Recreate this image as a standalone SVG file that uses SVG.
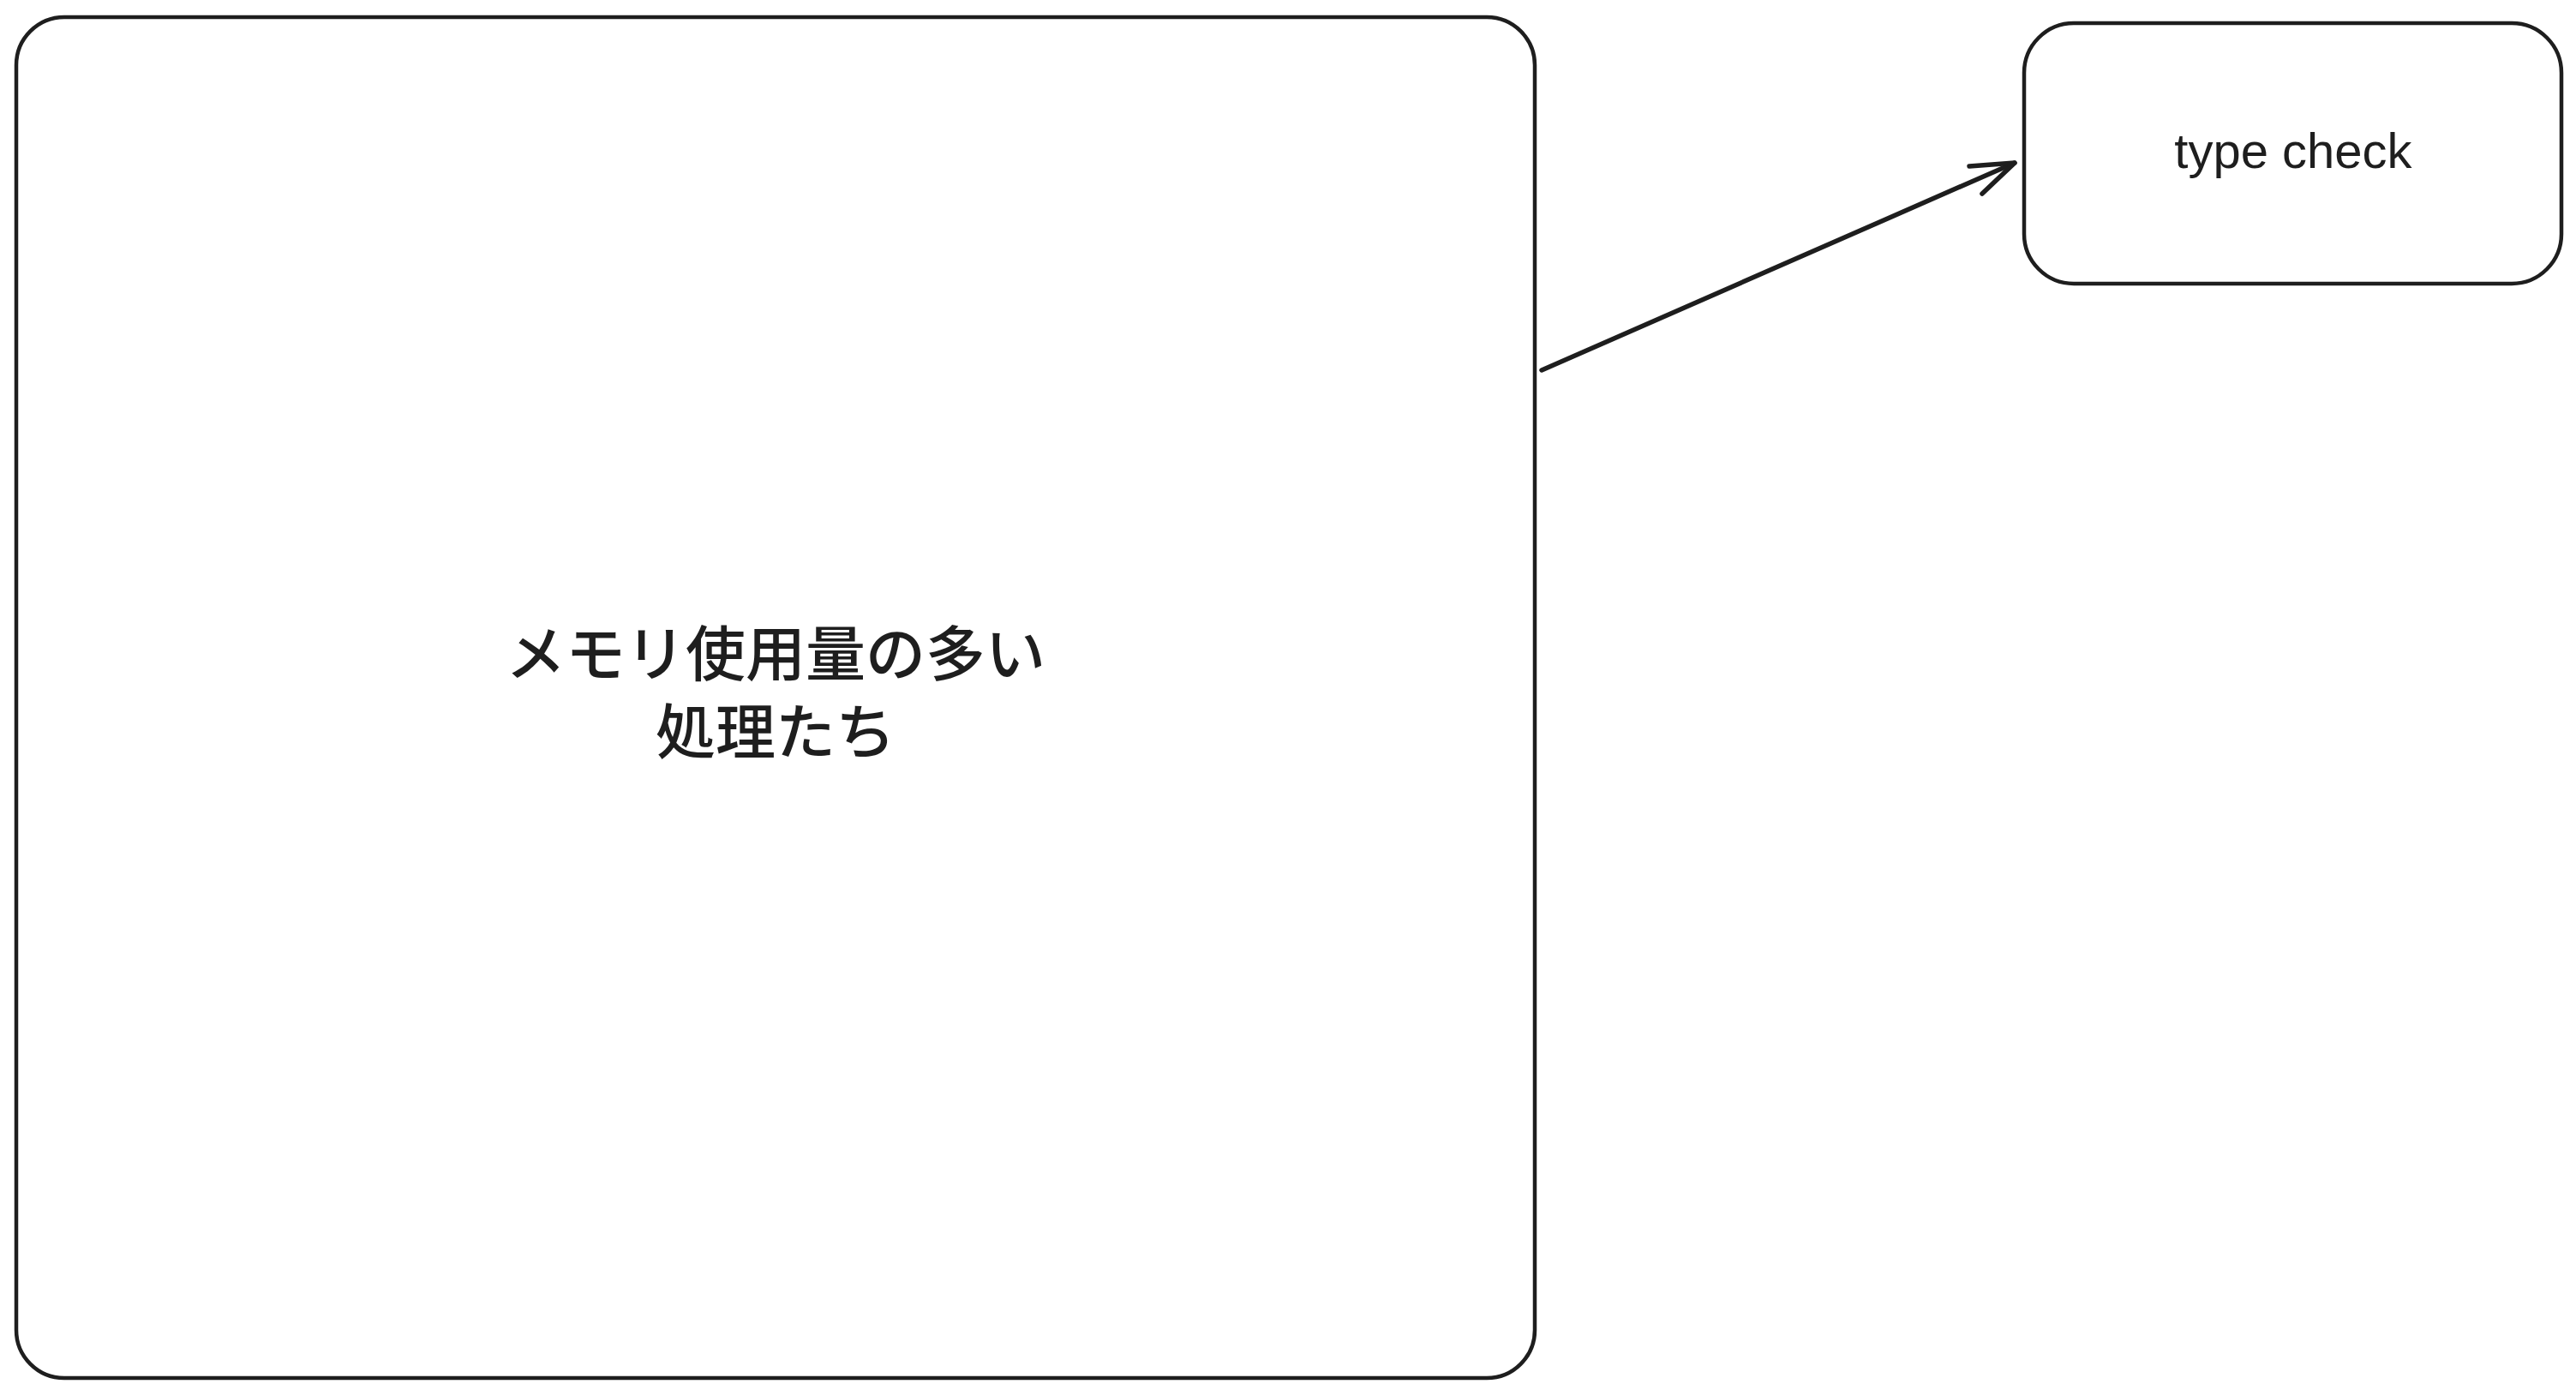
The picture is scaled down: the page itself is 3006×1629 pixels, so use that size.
<svg xmlns="http://www.w3.org/2000/svg" width="3006" height="1629" viewBox="0 0 3006 1629">
<style>
.box{fill:#ffffff;stroke:#1e1e1e;stroke-width:4.5;}
.conn{fill:none;stroke:#1e1e1e;stroke-width:5.5;stroke-linecap:round;stroke-linejoin:round;}
.jp{font-family:"Noto Sans CJK JP","Noto Sans",sans-serif;font-size:70px;font-weight:500;fill:#1e1e1e;text-anchor:middle;}
.en{font-family:"Liberation Sans",Arial,sans-serif;font-size:58px;fill:#1e1e1e;text-anchor:middle;}
</style>
<rect width="3006" height="1629" fill="#ffffff"/>
<g id="node-memory">
<rect class="box" x="19" y="20" width="1772" height="1588" rx="56" ry="56"/>
<text class="jp" x="905" y="789">メモリ使用量の多い</text>
<text class="jp" x="905" y="880">処理たち</text>
</g>
<g id="node-typecheck">
<rect class="box" x="2362" y="27" width="627" height="304" rx="58" ry="58"/>
<text class="en" x="2676" y="196">type check</text>
</g>
<g id="connectors">
<path class="conn" d="M1799 432 L2351 190"/>
<path class="conn" d="M2298 194 L2351 190 L2313 226"/>
</g>
</svg>
